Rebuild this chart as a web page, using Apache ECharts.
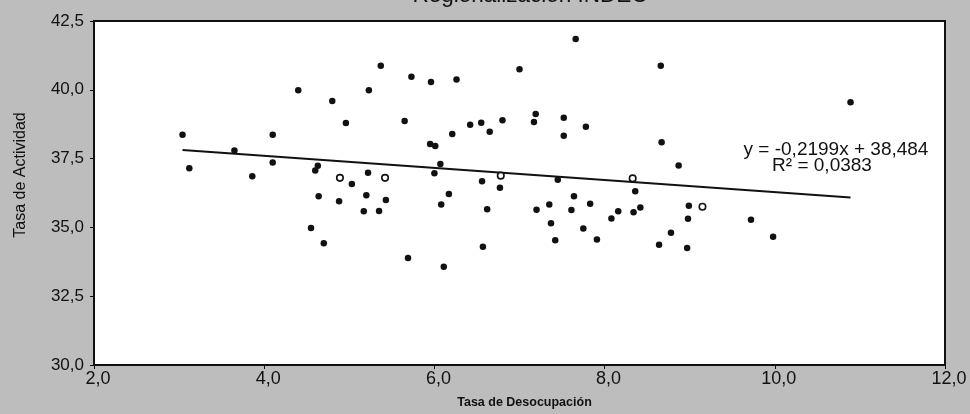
<!DOCTYPE html>
<html>
<head>
<meta charset="utf-8">
<script src="https://cdn.jsdelivr.net/npm/echarts@6/dist/echarts.min.js"></script>
<style>
  html, body { margin: 0; padding: 0; background: #bdbdbd; }
  #chart { width: 970px; height: 414px; }
</style>
</head>
<body>
<div id="chart"></div>
<script>
// Tasa de Desocupación (x) y Tasa de Actividad (y)
const desocupacion = [
  3.04, 3.12, 3.65, 3.86, 4.10, 4.10, 4.40, 4.63, 4.60, 4.64,
  4.55, 4.70, 4.80, 4.96, 4.89, 5.03, 4.88, 5.22, 5.23, 5.20,
  5.17, 5.35, 5.37, 5.42, 5.43, 5.65, 5.69, 5.73, 5.95, 6.01,
  5.96, 6.07, 6.00, 6.08, 6.17, 6.11, 6.21, 6.26, 6.42, 6.55,
  6.65, 6.56, 6.62, 6.57, 6.80, 6.78, 6.77, 7.00, 7.19, 7.17,
  7.20, 7.35, 7.37, 7.42, 7.45, 7.52, 7.52, 7.61, 7.64, 7.66,
  7.75, 7.78, 7.83, 7.91, 8.08, 8.16, 8.33, 8.36, 8.42, 8.34,
  8.64, 8.66, 8.67, 8.78, 8.87, 8.98, 8.99, 8.97, 9.15, 9.72,
  9.98, 10.89
]
const actividad = [
  38.37, 37.15, 37.79, 36.86, 38.37, 37.36, 39.98, 37.24, 37.07, 36.13,
  34.98, 34.42, 39.59, 38.79, 36.80, 36.58, 35.95, 36.99, 39.98, 36.17,
  35.59, 35.60, 40.87, 36.80, 36.00, 38.87, 33.89, 40.47, 38.03, 37.96,
  40.28, 37.30, 36.97, 35.83, 36.21, 33.57, 38.39, 40.37, 38.73, 38.80,
  38.48, 36.68, 35.66, 34.30, 38.89, 36.88, 36.44, 40.75, 39.12, 38.83,
  35.64, 35.83, 35.15, 34.53, 36.73, 38.98, 38.33, 35.63, 36.13, 41.85,
  34.96, 38.66, 35.86, 34.56, 35.32, 35.59, 36.78, 36.31, 35.72, 35.55,
  34.37, 40.87, 38.09, 34.81, 37.25, 35.31, 35.79, 34.25, 35.75, 35.28,
  34.66, 39.55
]
// puntos que aparecen huecos en el original
const huecos = [14, 23, 45, 66, 78]

const xTicks = [2, 4, 6, 8, 10, 12]
const yTicks = [30, 32.5, 35, 37.5, 40, 42.5]

// recta de tendencia
const pendiente = -0.2199
const ordenada = 38.484
const r2 = 0.0383

const titulo = 'Regionalización INDEC'
const fuente = "'Liberation Sans', Arial, sans-serif"
const coma = v => v.toFixed(1).replace('.', ',')
const fmt = (v, d) => v.toFixed(d).replace('.', ',')

const puntos = desocupacion.map((x, i) => {
  if (huecos.includes(i)) {
    return {
      value: [x, actividad[i]],
      itemStyle: { color: '#fff', borderColor: '#111', borderWidth: 1.6 }
    }
  }
  return [x, actividad[i]]
})

const xMin = Math.min(...desocupacion)
const xMax = Math.max(...desocupacion)
const tendencia = [
  [xMin, pendiente * xMin + ordenada],
  [xMax, pendiente * xMax + ordenada]
]

const chart = echarts.init(document.getElementById('chart'))
chart.setOption({
  backgroundColor: '#bdbdbd',
  animation: false,
  grid: {
    left: 94, right: 25, top: 21, bottom: 45,
    show: true,
    backgroundColor: '#fff',
    borderColor: '#111',
    borderWidth: 2
  },
  xAxis: {
    type: 'value',
    min: xTicks[0],
    max: xTicks[xTicks.length - 1],
    interval: 2,
    name: 'Tasa de Desocupación',
    nameLocation: 'middle',
    nameGap: 31,
    nameTextStyle: { fontFamily: fuente, fontWeight: 'bold', fontSize: 12.5, color: '#111', padding: [0, 0, 0, 10] },
    axisLine: { lineStyle: { color: '#111', width: 2 } },
    axisTick: { show: true, length: 4, inside: false, lineStyle: { color: '#111' } },
    axisLabel: { formatter: coma, fontFamily: fuente, fontSize: 18, color: '#111', margin: 5, padding: [0, 0, 0, 8] },
    splitLine: { show: false }
  },
  yAxis: {
    type: 'value',
    min: yTicks[0],
    max: yTicks[yTicks.length - 1],
    interval: 2.5,
    axisLine: { show: true, lineStyle: { color: '#111', width: 2 } },
    axisTick: { show: true, length: 4, lineStyle: { color: '#111' } },
    axisLabel: { formatter: coma, fontFamily: fuente, fontSize: 17, color: '#111', margin: 10 },
    splitLine: { show: false }
  },
  series: [
    {
      type: 'scatter',
      data: puntos,
      symbolSize: 6.5,
      itemStyle: { color: '#111', opacity: 1 },
      z: 3
    },
    {
      type: 'line',
      data: tendencia,
      symbol: 'none',
      lineStyle: { color: '#111', width: 2 },
      z: 2
    }
  ],
  graphic: [
    {
      // titulo recortado arriba, como en el original
      type: 'text',
      x: 530, y: 7,
      style: {
        text: titulo,
        fontFamily: fuente, fontSize: 22.5, fill: '#111',
        align: 'center', verticalAlign: 'bottom'
      }
    },
    {
      type: 'text',
      x: 21, y: 175,
      rotation: Math.PI / 2,
      style: {
        text: 'Tasa de Actividad',
        fontFamily: fuente, fontSize: 16, fill: '#111',
        align: 'center', verticalAlign: 'middle'
      }
    },
    {
      type: 'text',
      x: 836, y: 150,
      style: {
        text: 'y = ' + fmt(pendiente, 4) + 'x + ' + fmt(ordenada, 3),
        fontFamily: fuente, fontSize: 19, fill: '#111',
        align: 'center', verticalAlign: 'middle'
      }
    },
    {
      type: 'text',
      x: 822, y: 166,
      style: {
        text: 'R² = ' + fmt(r2, 4),
        fontFamily: fuente, fontSize: 19, fill: '#111',
        align: 'center', verticalAlign: 'middle'
      }
    }
  ]
})
</script>
</body>
</html>
